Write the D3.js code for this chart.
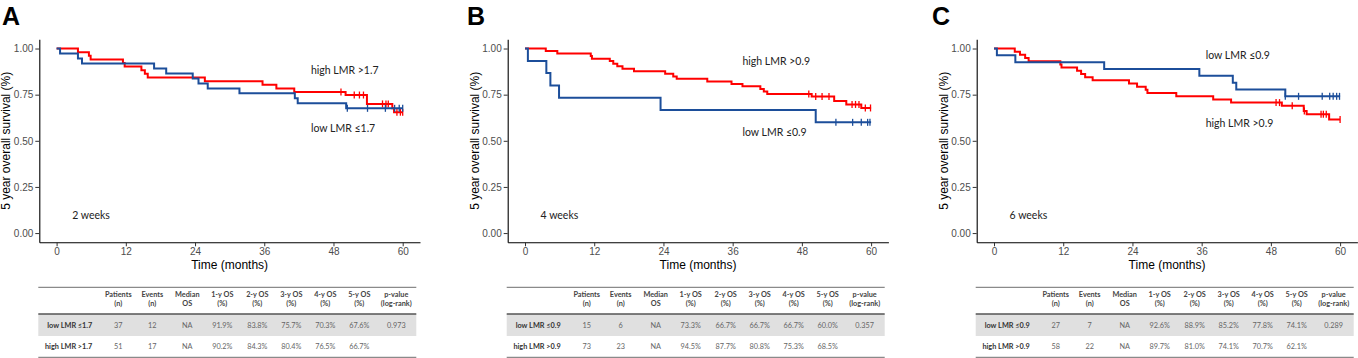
<!DOCTYPE html>
<html>
<head>
<meta charset="utf-8">
<script src="https://cdn.jsdelivr.net/npm/d3@7"></script>
<style>
  body { margin: 0; background: #fff; }
  svg { display: block; }
</style>
</head>
<body>
<svg id="chart" width="1358" height="358"></svg>
<script>
// ---- data: [month, survival] at each event step ----
const highA = [[0,1],[3.7,0.980],[5.6,0.961],[5.9,0.941],[11.5,0.922],[11.8,0.902],[14.7,0.882],[15.3,0.863],[15.8,0.843],[25.7,0.823],[35.7,0.804],[38.1,0.784],[41.2,0.765],[50.1,0.748],[53.8,0.700],[58.2,0.677],[58.5,0.655]];
const highA_cens = [49.3, 51.6, 52.5, 53.2, 56.5, 57.1, 57.5, 59.0, 59.6, 60];
const lowA = [[0,1],[0.6,0.973],[3.7,0.946],[4.4,0.919],[16.9,0.892],[19.0,0.865],[23.6,0.838],[24.6,0.811],[26.2,0.784],[31.7,0.757],[41.3,0.730],[41.8,0.703],[50.2,0.676]];
const lowA_cens = [50.4, 53.9, 57.0, 58.6, 59.4, 60];

const highB = [[0,1],[3.6,0.986],[5.6,0.973],[11.4,0.959],[11.6,0.945],[14.7,0.932],[15.3,0.918],[16.0,0.904],[16.9,0.890],[18.9,0.877],[24.3,0.863],[25.7,0.849],[26.3,0.836],[31.6,0.822],[35.8,0.808],[37.7,0.795],[40.8,0.781],[41.4,0.767],[42.0,0.753],[49.7,0.740],[53.6,0.715],[55.7,0.697],[58.3,0.678]];
const highB_cens = [49.2, 50.4, 51.5, 52.7, 56.7, 57.3, 57.9, 59.0, 59.9];
const lowB = [[0,1],[0.5,0.933],[3.7,0.867],[4.4,0.800],[5.9,0.733],[23.5,0.667],[50.4,0.600]];
const lowB_cens = [53.9, 56.8, 58.3, 59.4, 59.8];

const highC = [[0,1],[3.6,0.983],[4.5,0.966],[5.4,0.948],[6.0,0.931],[11.5,0.914],[11.7,0.897],[14.4,0.879],[15.1,0.862],[15.8,0.845],[17.1,0.828],[23.4,0.810],[24.8,0.793],[26.3,0.776],[26.6,0.759],[31.6,0.741],[38.0,0.724],[41.1,0.707],[49.9,0.690],[53.7,0.662],[54.2,0.644],[58.1,0.615]];
const highC_cens = [48.9, 49.5, 51.7, 53.8, 56.7, 57.1, 57.6, 60];
const lowC = [[0,1],[0.5,0.963],[3.7,0.926],[19.1,0.889],[35.6,0.852],[41.4,0.815],[42.0,0.778],[50.5,0.741]];
const lowC_cens = [50.5, 52.8, 56.9, 58.2, 58.8, 59.4, 59.9];

const xTicks = [0, 12, 24, 36, 48, 60];
const yTicks = [0, 0.25, 0.5, 0.75, 1];

const tableHeader = [["Patients","(n)"],["Events","(n)"],["Median","OS"],["1-y OS","(%)"],["2-y OS","(%)"],["3-y OS","(%)"],["4-y OS","(%)"],["5-y OS","(%)"],["p-value","(log-rank)"]];
const tableA = [["low LMR \u22641.7","37","12","NA","91.9%","83.8%","75.7%","70.3%","67.6%","0.973"],
                ["high LMR >1.7","51","17","NA","90.2%","84.3%","80.4%","76.5%","66.7%",""]];
const tableB = [["low LMR \u22640.9","15","6","NA","73.3%","66.7%","66.7%","66.7%","60.0%","0.357"],
                ["high LMR >0.9","73","23","NA","94.5%","87.7%","80.8%","75.3%","68.5%",""]];
const tableC = [["low LMR \u22640.9","27","7","NA","92.6%","88.9%","85.2%","77.8%","74.1%","0.289"],
                ["high LMR >0.9","58","22","NA","89.7%","81.0%","74.1%","70.7%","62.1%",""]];

const RED = "#ff0000", BLUE = "#1c4e9a";

const panels = [
  { letter: "A", axisX: 39.3, letterX: 2, weeks: "2 weeks", table: tableA,
    high: highA, highCens: highA_cens, low: lowA, lowCens: lowA_cens,
    highLabel: ["high LMR >1.7", 44.1, 0.883], lowLabel: ["low LMR \u22641.7", 44.1, 0.570] },
  { letter: "B", axisX: 507.7, letterX: 467, weeks: "4 weeks", table: tableB,
    high: highB, highCens: highB_cens, low: lowB, lowCens: lowB_cens,
    highLabel: ["high LMR >0.9", 37.7, 0.931], lowLabel: ["low LMR \u22640.9", 37.7, 0.548] },
  { letter: "C", axisX: 976.7, letterX: 932, weeks: "6 weeks", table: tableC,
    high: highC, highCens: highC_cens, low: lowC, lowCens: lowC_cens,
    highLabel: ["high LMR >0.9", 36.7, 0.599], lowLabel: ["low LMR \u22640.9", 36.7, 0.964] }
];

const chart = d3.select("#chart");
const plotTop = 39.3, plotBottom = 242.3, plotW = 380.7;
const labelFont = "Lato, 'Open Sans', sans-serif";
const axisFont = "'Liberation Sans', Arial, sans-serif";

function survAt(steps, t) {
  let s = steps[0][1];
  steps.forEach(d => { if (d[0] <= t) s = d[1]; });
  return s;
}

panels.forEach(p => {
  const g = chart.append("g");

  // scales (ggplot style 5% expansion)
  const x = d3.scaleLinear().domain([-3, 63]).range([p.axisX, p.axisX + plotW]);
  const y = d3.scaleLinear().domain([-0.05, 1.05]).range([plotBottom, plotTop]);

  // panel letter
  g.append("text")
    .text(p.letter)
    .attr("x", p.letterX).attr("y", 25)
    .style("font-family", axisFont)
    .style("font-weight", "bold")
    .style("font-size", "25px");

  // axes
  const xAxis = g.append("g")
    .attr("transform", "translate(0," + plotBottom + ")")
    .call(d3.axisBottom(x).tickValues(xTicks).tickSize(4).tickPadding(2).tickSizeOuter(0));
  const yAxis = g.append("g")
    .attr("transform", "translate(" + p.axisX + ",0)")
    .call(d3.axisLeft(y).tickValues(yTicks).tickFormat(d3.format(".2f")).tickSize(4).tickPadding(2).tickSizeOuter(0));
  [xAxis, yAxis].forEach(a => {
    a.select(".domain").attr("stroke", "#000").attr("stroke-width", 1.1);
    a.selectAll(".tick line").attr("stroke", "#333");
    a.selectAll(".tick text")
      .style("font-family", axisFont)
      .style("font-size", "10px")
      .attr("fill", "#4d4d4d");
  });

  // axis titles
  g.append("text")
    .text("Time (months)")
    .attr("x", p.axisX + plotW / 2).attr("y", 268.5)
    .attr("text-anchor", "middle")
    .style("font-family", axisFont)
    .style("font-size", "12px");
  g.append("text")
    .text("5 year overall survival (%)")
    .attr("transform", "translate(" + (p.axisX - 33) + "," + ((plotTop + plotBottom) / 2) + ") rotate(-90)")
    .attr("text-anchor", "middle")
    .attr("dominant-baseline", "central")
    .style("font-family", axisFont)
    .style("font-size", "12px");

  // curves: red (high) under, blue (low) on top
  const line = d3.line()
    .x(d => x(d[0]))
    .y(d => y(d[1]))
    .curve(d3.curveStepAfter);
  [[p.high, p.highCens, RED], [p.low, p.lowCens, BLUE]].forEach(c => {
    const steps = c[0];
    const pts = steps.concat([[60, steps[steps.length - 1][1]]]);
    g.append("path")
      .datum(pts)
      .attr("fill", "none")
      .attr("stroke", c[2])
      .attr("stroke-width", 2)
      .attr("d", line);
    g.selectAll(null)
      .data(c[1])
      .enter().append("line")
      .attr("x1", d => x(d)).attr("x2", d => x(d))
      .attr("y1", d => y(survAt(steps, d)) - 3.5)
      .attr("y2", d => y(survAt(steps, d)) + 3.5)
      .attr("stroke", c[2])
      .attr("stroke-width", 1.3);
  });

  // annotations
  [p.highLabel, p.lowLabel, [p.weeks, 2.7, 0.097]].forEach(l => {
    g.append("text")
      .text(l[0])
      .attr("x", x(l[1])).attr("y", y(l[2]))
      .attr("dominant-baseline", "central")
      .style("font-family", labelFont)
      .style("font-size", "10.5px")
      .attr("fill", "#222");
  });

  // summary table
  const tl = p.axisX - 1, tw = 378;
  const colX = [54, 80, 114, 149, 184, 219, 253, 287, 321, 358];
  const t = g.append("g").style("font-family", labelFont).style("font-size", "7.3px");
  t.append("rect")
    .attr("x", tl).attr("y", 314).attr("width", tw).attr("height", 22)
    .attr("fill", "#e0e0e0");
  t.append("line").attr("x1", tl).attr("x2", tl + tw).attr("y1", 287.3).attr("y2", 287.3)
    .attr("stroke", "#8a8a8a").attr("stroke-width", 1.3);
  t.append("line").attr("x1", tl).attr("x2", tl + tw).attr("y1", 314).attr("y2", 314)
    .attr("stroke", "#555").attr("stroke-width", 1.5);
  t.append("line").attr("x1", tl).attr("x2", tl + tw).attr("y1", 357.3).attr("y2", 357.3)
    .attr("stroke", "#8a8a8a").attr("stroke-width", 1.3);

  tableHeader.forEach((h, i) => {
    h.forEach((s, j) => {
      t.append("text")
        .text(s)
        .attr("x", tl + colX[i + 1]).attr("y", j === 0 ? 294 : 303.7)
        .attr("text-anchor", "middle")
        .attr("dominant-baseline", "central")
        .style("font-weight", "bold")
        .attr("fill", "#444");
    });
  });
  p.table.forEach((row, r) => {
    row.forEach((s, i) => {
      t.append("text")
        .text(s)
        .attr("x", tl + colX[i])
        .attr("y", r === 0 ? 325.3 : 346.7)
        .attr("text-anchor", i === 0 ? "end" : "middle")
        .attr("dominant-baseline", "central")
        .style("font-weight", i === 0 ? "bold" : "normal")
        .attr("fill", i === 0 ? "#333" : "#666");
    });
  });
});
</script>
</body>
</html>
